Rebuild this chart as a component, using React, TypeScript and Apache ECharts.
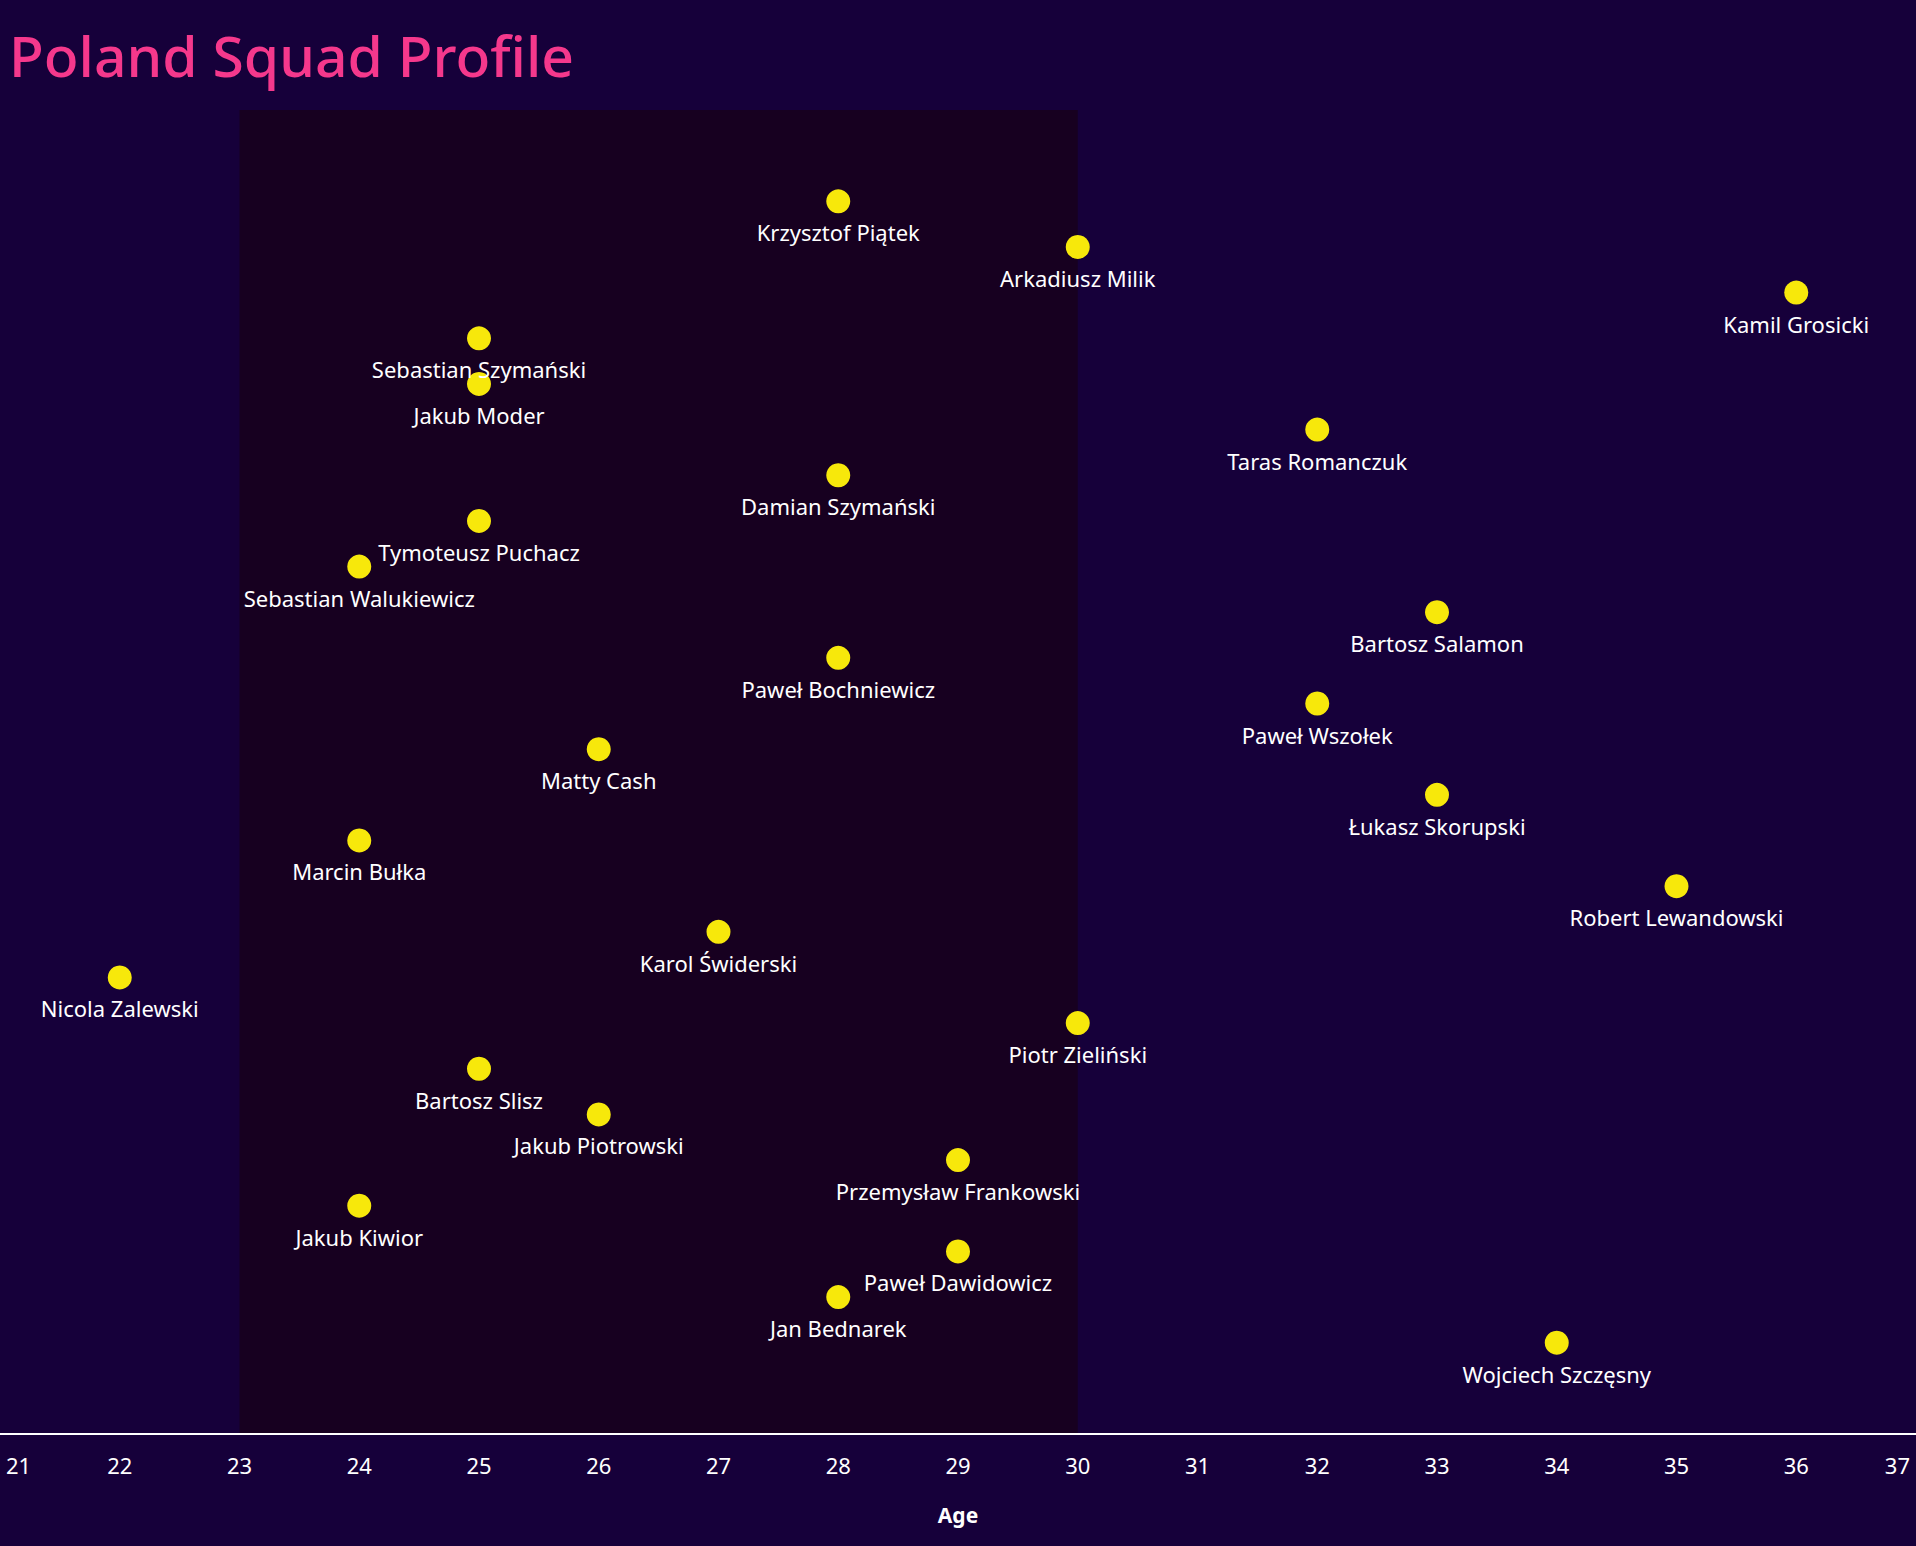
import React, { useEffect, useRef } from "react";
import * as echarts from "echarts";

const players: string[] = [
  "Krzysztof Piątek",
  "Arkadiusz Milik",
  "Kamil Grosicki",
  "Sebastian Szymański",
  "Jakub Moder",
  "Taras Romanczuk",
  "Damian Szymański",
  "Tymoteusz Puchacz",
  "Sebastian Walukiewicz",
  "Bartosz Salamon",
  "Paweł Bochniewicz",
  "Paweł Wszołek",
  "Matty Cash",
  "Łukasz Skorupski",
  "Marcin Bułka",
  "Robert Lewandowski",
  "Karol Świderski",
  "Nicola Zalewski",
  "Piotr Zieliński",
  "Bartosz Slisz",
  "Jakub Piotrowski",
  "Przemysław Frankowski",
  "Jakub Kiwior",
  "Paweł Dawidowicz",
  "Jan Bednarek",
  "Wojciech Szczęsny",
];

const ages: number[] = [
  28, 30, 36, 25, 25, 32, 28, 25, 24, 33, 28, 32, 26, 33, 24, 35, 27, 22, 30, 25,
  26, 29, 24, 29, 28, 34,
];

const ageTicks: number[] = [21, 37];
const peakAgeBand: number[] = [23, 30];

const FONT = "'Noto Sans', 'Open Sans', sans-serif";

export default function App() {
  const ref = useRef<HTMLDivElement>(null);

  useEffect(() => {
    document.body.style.margin = "0";
    if (!ref.current) return;
    const chart = echarts.init(ref.current, undefined, { renderer: "svg" });
    const data = players.map((name, i) => ({ name, value: [ages[i], i + 1] }));
    chart.setOption({
      animation: false,
      backgroundColor: "#16003a",
      title: {
        text: "Poland Squad Profile",
        left: 4,
        top: 21,
        textStyle: {
          color: "#f5388c",
          fontSize: 57,
          fontWeight: 500,
          fontFamily: FONT,
        },
      },
      grid: {
        left: 0,
        right: 0,
        top: 110,
        bottom: 1546 - 1434,
        outerBoundsMode: "none",
        containLabel: false,
      },
      xAxis: {
        type: "value",
        min: ageTicks[0],
        max: ageTicks[1],
        interval: 1,
        name: "Age",
        nameLocation: "middle",
        nameGap: 70,
        nameTextStyle: {
          color: "#ffffff",
          fontSize: 21,
          fontWeight: "bold",
          fontFamily: FONT,
        },
        axisLine: {
          show: true,
          onZero: false,
          lineStyle: { color: "#ffffff", width: 2 },
        },
        axisTick: { show: false },
        splitLine: { show: false },
        axisLabel: {
          color: "#ffffff",
          fontSize: 22,
          fontFamily: FONT,
          margin: 20,
          padding: [0, 6, 0, 6],
          alignMinLabel: "left",
          alignMaxLabel: "right",
          hideOverlap: false,
        },
        z: 5,
      },
      yAxis: {
        type: "value",
        inverse: true,
        min: -1,
        max: players.length + 2,
        show: false,
        splitLine: { show: false },
      },
      series: [
        {
          type: "scatter",
          symbolSize: 24,
          itemStyle: { color: "#f7e80b", opacity: 1 },
          label: {
            show: true,
            position: "bottom",
            distance: 8,
            formatter: (p: any) => p.name,
            color: "#ffffff",
            fontSize: 22,
            fontWeight: "normal",
            fontFamily: FONT,
          },
          data,
          markArea: {
            silent: true,
            itemStyle: { color: "#170020" },
            data: [[{ xAxis: peakAgeBand[0] }, { xAxis: peakAgeBand[1] }]],
          },
          z: 3,
        },
      ],
    });
    return () => chart.dispose();
  }, []);

  return <div ref={ref} style={{ width: 1916, height: 1546 }} />;
}
